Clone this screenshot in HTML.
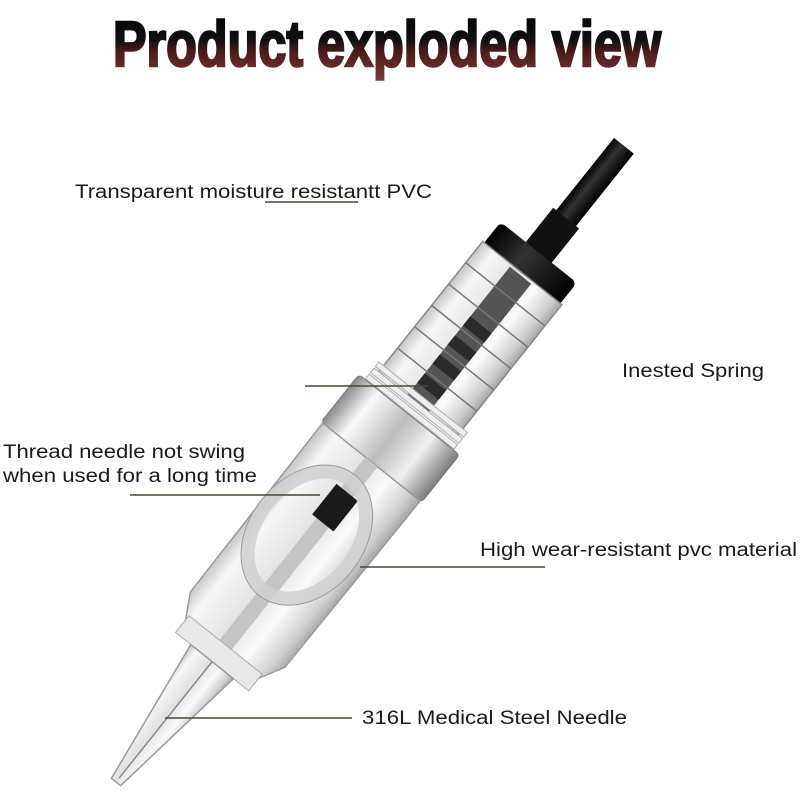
<!DOCTYPE html>
<html><head><meta charset="utf-8"><style>
html,body{margin:0;padding:0;background:#fff;}
svg{display:block}
text{font-family:"Liberation Sans",sans-serif;}
</style></head><body>
<svg width="800" height="800" viewBox="0 0 800 800" xmlns="http://www.w3.org/2000/svg">
<defs>
<linearGradient id="tg" x1="0" y1="0" x2="0" y2="1">
<stop offset="0" stop-color="#000"/><stop offset="0.45" stop-color="#111"/><stop offset="0.6" stop-color="#4a1a18"/><stop offset="1" stop-color="#7a3a36"/></linearGradient>
<linearGradient id="body" x1="0" y1="0" x2="1" y2="0">
<stop offset="0" stop-color="#c4c4c4"/><stop offset="0.15" stop-color="#f7f7f7"/><stop offset="0.45" stop-color="#e2e2e2"/><stop offset="0.7" stop-color="#fafafa"/><stop offset="0.9" stop-color="#cfcfcf"/><stop offset="1" stop-color="#a5a5a5"/></linearGradient>
<linearGradient id="silver" x1="0" y1="0" x2="1" y2="0">
<stop offset="0" stop-color="#8a8a8a"/><stop offset="0.2" stop-color="#fafafa"/><stop offset="0.5" stop-color="#bcbcbc"/><stop offset="0.75" stop-color="#f0f0f0"/><stop offset="1" stop-color="#7c7c7c"/></linearGradient>
<linearGradient id="blk" x1="0" y1="0" x2="1" y2="0">
<stop offset="0" stop-color="#000"/><stop offset="0.4" stop-color="#333"/><stop offset="1" stop-color="#000"/></linearGradient>
</defs>
<text x="387" y="66" text-anchor="middle" font-size="64" font-weight="bold" fill="url(#tg)" stroke="url(#tg)" stroke-width="2.5" textLength="548" lengthAdjust="spacingAndGlyphs" style="font-family:'Liberation Sans Narrow','Liberation Sans',sans-serif">Product exploded view</text>

<g transform="translate(116,782) rotate(38.6) scale(0.975)">
  <rect x="-13" y="-835" width="26" height="150" fill="url(#blk)"/>
  <rect x="-17" y="-740" width="34" height="50" fill="#111"/>
  <rect x="-50" y="-695" width="100" height="30" rx="6" fill="url(#blk)"/>
  <rect x="-52" y="-668" width="104" height="175" fill="url(#body)" stroke="#888" stroke-width="1.5"/>
  <rect x="-14" y="-665" width="28" height="170" fill="#555"/>
  <g fill="#2a2a2a">
    <rect x="-14" y="-600" width="28" height="12"/><rect x="-14" y="-575" width="28" height="12"/><rect x="-14" y="-550" width="28" height="12"/><rect x="-14" y="-525" width="28" height="12"/>
  </g>
  <g stroke="#777" stroke-width="1.5" fill="none">
    <line x1="-52" y1="-640" x2="52" y2="-640"/><line x1="-52" y1="-612" x2="52" y2="-612"/><line x1="-52" y1="-584" x2="52" y2="-584"/><line x1="-52" y1="-556" x2="52" y2="-556"/><line x1="-52" y1="-528" x2="52" y2="-528"/>
  </g>
  <g fill="#eee" stroke="#aaa" stroke-width="1">
    <rect x="-58" y="-505" width="116" height="6"/><rect x="-58" y="-497" width="116" height="6"/><rect x="-58" y="-489" width="116" height="6"/>
  </g>
  <rect x="-66" y="-482" width="132" height="62" rx="4" fill="url(#silver)" stroke="#777"/>
  <path d="M-64,-420 L64,-420 L62,-200 L40,-160 L-40,-160 L-62,-200 Z" fill="url(#body)" stroke="#999" stroke-width="1.5"/>
  <rect x="-8" y="-420" width="16" height="260" fill="#c4c4c4"/>
  <rect x="-14" y="-380" width="28" height="40" fill="#1a1a1a"/>
  <ellipse cx="-5" cy="-320" rx="52" ry="72" fill="none" stroke="#d0d0d0" stroke-width="14" opacity="0.85"/>
  <ellipse cx="-5" cy="-320" rx="59" ry="79" fill="none" stroke="#999" stroke-width="1"/>
  <rect x="-48" y="-180" width="96" height="22" fill="#e8e8e8" stroke="#aaa"/>
  <path d="M-28,-158 L28,-158 L6,0 L-6,0 Z" fill="url(#body)" stroke="#999" stroke-width="1.5"/>
  <line x1="0" y1="-158" x2="0" y2="-5" stroke="#888" stroke-width="1.5"/>
</g>

<g stroke="#4a4438" stroke-width="1.6">
  <line x1="265" y1="202" x2="358" y2="202"/>
  <line x1="305" y1="386" x2="428" y2="386"/>
  <line x1="130" y1="495" x2="320" y2="495"/>
  <line x1="360" y1="567" x2="545" y2="567"/>
  <line x1="165" y1="718" x2="352" y2="718"/>
</g>
<g font-size="19" fill="#1a1a1a">
  <text x="75" y="198" textLength="357" lengthAdjust="spacingAndGlyphs">Transparent moisture resistantt PVC</text>
  <text x="622" y="377" textLength="142" lengthAdjust="spacingAndGlyphs">Inested Spring</text>
  <text x="3" y="458" textLength="242" lengthAdjust="spacingAndGlyphs">Thread needle not swing</text>
  <text x="3" y="482" textLength="254" lengthAdjust="spacingAndGlyphs">when used for a long time</text>
  <text x="480" y="556" textLength="317" lengthAdjust="spacingAndGlyphs">High wear-resistant pvc material</text>
  <text x="362" y="724" textLength="265" lengthAdjust="spacingAndGlyphs">316L Medical Steel Needle</text>
</g>
</svg>
</body></html>
